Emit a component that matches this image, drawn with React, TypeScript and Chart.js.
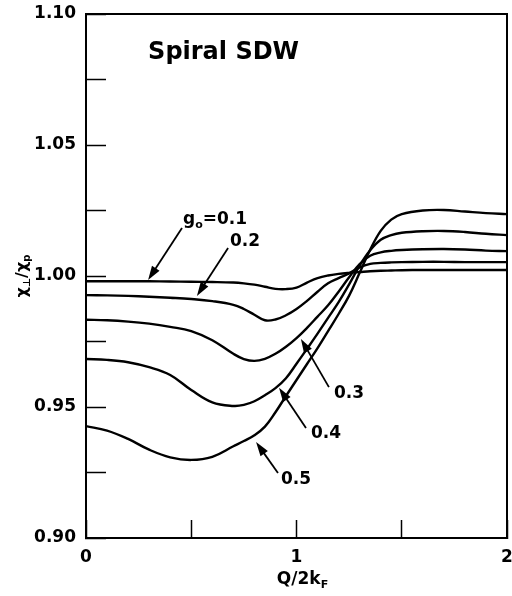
import React, { useEffect, useRef } from 'react';
import { Chart, registerables } from 'chart.js';

Chart.register(...registerables);

// Q/2kF sample grid
const Q = [0, 0.1, 0.2, 0.3, 0.4, 0.5, 0.6, 0.7, 0.75, 0.8, 0.85, 0.9, 0.95, 1.0, 1.05, 1.1, 1.15, 1.2, 1.25, 1.3, 1.35, 1.4, 1.45, 1.5, 1.6, 1.7, 1.8, 1.9, 2.0];

// chi_perp / chi_p for each coupling g0
const G01 = [0.998, 0.998, 0.998, 0.998, 0.9979, 0.9978, 0.9977, 0.9975, 0.9972, 0.9967, 0.9959, 0.9951, 0.995, 0.9956, 0.9975, 0.9992, 1.0002, 1.0008, 1.0012, 1.0015, 1.0018, 1.002, 1.0021, 1.0022, 1.0023, 1.0023, 1.0023, 1.0023, 1.0023];
const G02 = [0.9927, 0.9926, 0.9924, 0.9921, 0.9917, 0.9912, 0.9904, 0.989, 0.9874, 0.9852, 0.9831, 0.9834, 0.985, 0.9874, 0.9905, 0.994, 0.9972, 0.9992, 1.001, 1.0033, 1.0046, 1.005, 1.0052, 1.0053, 1.0054, 1.0054, 1.0053, 1.0053, 1.0053];
const G03 = [0.9833, 0.9831, 0.9826, 0.9818, 0.9806, 0.979, 0.9755, 0.9703, 0.9683, 0.9676, 0.9684, 0.9703, 0.973, 0.9763, 0.9802, 0.9845, 0.9888, 0.994, 0.9995, 1.0045, 1.0077, 1.009, 1.0096, 1.0099, 1.0102, 1.0103, 1.0101, 1.0097, 1.0095];
const G04 = [0.9683, 0.968, 0.9671, 0.9652, 0.9622, 0.9565, 0.9518, 0.9504, 0.9508, 0.9522, 0.9545, 0.9572, 0.961, 0.9665, 0.9722, 0.978, 0.984, 0.99, 0.9968, 1.004, 1.0098, 1.0138, 1.0156, 1.0165, 1.0171, 1.0172, 1.0168, 1.0161, 1.0156];
const G05 = [0.9427, 0.941, 0.9378, 0.9337, 0.9308, 0.9298, 0.931, 0.935, 0.937, 0.9392, 0.9425, 0.948, 0.9542, 0.9603, 0.9664, 0.9725, 0.979, 0.9855, 0.9925, 1.0012, 1.01, 1.0172, 1.0215, 1.0236, 1.025, 1.0252, 1.0246, 1.024, 1.0236];

const SERIES = [G01, G02, G03, G04, G05];
const SERIES_NAMES = ['g0=0.1', '0.2', '0.3', '0.4', '0.5'];

const X_MIN = 0;
const X_MAX = 2;
const X_STEP = 0.5;
const Y_MIN = 0.9;
const Y_MAX = 1.1;
const Y_STEP = 0.025;

const TITLE = 'Spiral SDW';

type Part = { t: string; sub?: boolean };

// annotation labels (rich text) with arrows: label anchor, arrow tail, arrow tip (data units)
const NOTE_TEXT: Part[][] = [
  [{ t: 'g' }, { t: 'o', sub: true }, { t: '=0.1' }],
  [{ t: '0.2' }],
  [{ t: '0.3' }],
  [{ t: '0.4' }],
  [{ t: '0.5' }],
];
const NOTE_LABEL_AT = [[0.461, 1.0221], [0.684, 1.0137], [1.178, 0.9557], [1.069, 0.9405], [0.926, 0.9229]];
const NOTE_TAIL = [[0.456, 1.0183], [0.675, 1.0107], [1.154, 0.9576], [1.045, 0.942], [0.912, 0.9248]];
const NOTE_TIP = [[0.295, 0.9985], [0.527, 0.9924], [1.021, 0.976], [0.917, 0.9573], [0.808, 0.9366]];

const FONT = 'DejaVu Sans';

function richWidth(ctx: CanvasRenderingContext2D, parts: Part[], size: number) {
  let w = 0;
  for (const p of parts) {
    ctx.font = `bold ${p.sub ? Math.round(size * 0.62) : size}px "${FONT}"`;
    w += ctx.measureText(p.t).width;
  }
  return w;
}

function drawRich(ctx: CanvasRenderingContext2D, parts: Part[], x: number, yMid: number, size: number, align: 'left' | 'center') {
  const w = richWidth(ctx, parts, size);
  let cx = align === 'center' ? x - w / 2 : x;
  const base = yMid + size * 0.36;
  ctx.textAlign = 'left';
  ctx.textBaseline = 'alphabetic';
  for (const p of parts) {
    const s = p.sub ? Math.round(size * 0.62) : size;
    ctx.font = `bold ${s}px "${FONT}"`;
    ctx.fillText(p.t, cx, p.sub ? base + size * 0.22 : base);
    cx += ctx.measureText(p.t).width;
  }
}

function drawArrow(ctx: CanvasRenderingContext2D, x1: number, y1: number, x2: number, y2: number) {
  const ang = Math.atan2(y2 - y1, x2 - x1);
  const L = 14;
  const W = 4.5;
  const c = Math.cos(ang);
  const s = Math.sin(ang);
  ctx.lineWidth = 1.8;
  ctx.beginPath();
  ctx.moveTo(x1, y1);
  ctx.lineTo(x2 - L * 0.7 * c, y2 - L * 0.7 * s);
  ctx.stroke();
  ctx.beginPath();
  ctx.moveTo(x2, y2);
  ctx.lineTo(x2 - L * c + W * s, y2 - L * s - W * c);
  ctx.lineTo(x2 - L * c - W * s, y2 - L * s + W * c);
  ctx.closePath();
  ctx.fill();
}

const decor = {
  id: 'decor',
  afterDraw(chart: any) {
    const { ctx, chartArea: a, scales } = chart;
    const xs = scales.x;
    const ys = scales.y;
    ctx.save();
    ctx.strokeStyle = '#000';
    ctx.fillStyle = '#000';
    ctx.lineWidth = 2;
    ctx.strokeRect(a.left, a.top, a.right - a.left, a.bottom - a.top);

    // title inside plot
    drawRich(ctx, [{ t: TITLE }], xs.getPixelForValue(0.295), ys.getPixelForValue(1.0863), 24, 'left');

    // annotations
    for (let i = 0; i < NOTE_TEXT.length; i++) {
      drawArrow(
        ctx,
        xs.getPixelForValue(NOTE_TAIL[i][0]), ys.getPixelForValue(NOTE_TAIL[i][1]),
        xs.getPixelForValue(NOTE_TIP[i][0]), ys.getPixelForValue(NOTE_TIP[i][1])
      );
      drawRich(ctx, NOTE_TEXT[i], xs.getPixelForValue(NOTE_LABEL_AT[i][0]), ys.getPixelForValue(NOTE_LABEL_AT[i][1]), 17, 'left');
    }

    // x axis title
    drawRich(ctx, [{ t: 'Q/2k' }, { t: 'F', sub: true }], (a.left + a.right) / 2 + 6, 578, 17, 'center');

    // y axis title (rotated)
    ctx.translate(21, (a.top + a.bottom) / 2);
    ctx.rotate(-Math.PI / 2);
    drawRich(ctx, [{ t: 'χ' }, { t: '⊥', sub: true }, { t: '/χ' }, { t: 'p', sub: true }], 0, 0, 16, 'center');
    ctx.restore();
  },
};

export default function App() {
  const ref = useRef<HTMLCanvasElement | null>(null);

  useEffect(() => {
    if (!ref.current) return;
    const chart = new Chart(ref.current, {
      type: 'line',
      data: {
        datasets: SERIES.map((vals, k) => ({
          label: SERIES_NAMES[k],
          data: Q.map((q, i) => ({ x: q, y: vals[i] })),
          borderColor: '#000',
          borderWidth: 2.4,
          pointRadius: 0,
          fill: false,
          tension: 0.4,
        })),
      },
      options: {
        animation: false,
        responsive: false,
        events: [],
        layout: { padding: { left: 0, top: 14, right: 5, bottom: 0 } },
        plugins: { legend: { display: false }, tooltip: { enabled: false } },
        scales: {
          x: {
            type: 'linear',
            min: X_MIN,
            max: X_MAX,
            grid: { drawOnChartArea: false, drawTicks: true, tickLength: -18, tickColor: '#000', tickWidth: 1.5 },
            border: { display: true, color: '#000', width: 2 },
            ticks: {
              stepSize: X_STEP,
              autoSkip: false,
              maxRotation: 0,
              padding: 27,
              color: '#000',
              font: { family: FONT, weight: 'bold', size: 17 },
              callback: (v: any) => (Math.abs(v - Math.round(v)) < 1e-6 ? String(Math.round(v)) : ''),
            },
            afterFit: (s: any) => {
              s.height = 58;
              s.paddingLeft = 0;
              s.paddingRight = 0;
            },
          },
          y: {
            type: 'linear',
            min: Y_MIN,
            max: Y_MAX,
            grid: { drawOnChartArea: false, drawTicks: true, tickLength: -20, tickColor: '#000', tickWidth: 1.5 },
            border: { display: true, color: '#000', width: 2 },
            ticks: {
              stepSize: Y_STEP,
              autoSkip: false,
              padding: 30,
              color: '#000',
              font: { family: FONT, weight: 'bold', size: 17 },
              callback: (v: any) => {
                const k = v * 20;
                return Math.abs(k - Math.round(k)) < 1e-6 ? Number(v).toFixed(2) : '';
              },
            },
            afterFit: (s: any) => {
              s.width = 86;
              s.paddingTop = 0;
              s.paddingBottom = 0;
            },
          },
        },
      },
      plugins: [decor],
    } as any);
    return () => chart.destroy();
  }, []);

  return (
    <div style={{ position: 'absolute', left: 0, top: 0, width: 512, height: 596, background: '#fff' }}>
      <canvas ref={ref} width={512} height={596} style={{ display: 'block', width: 512, height: 596 }} />
    </div>
  );
}
